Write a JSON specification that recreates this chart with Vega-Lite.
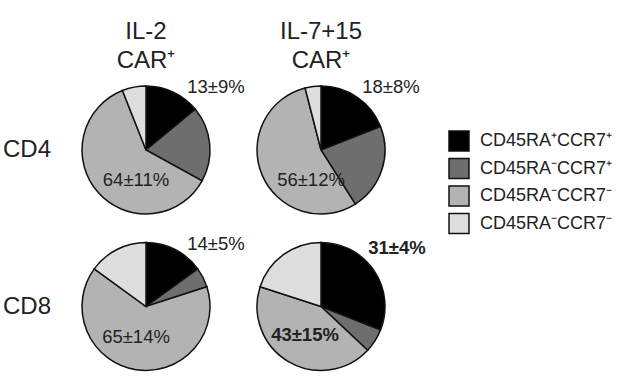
{
  "$schema": "https://vega.github.io/schema/vega-lite/v6.json",
  "padding": {"left": 2, "top": 20, "right": 5, "bottom": 5},
  "background": "white",
  "bounds": "flush",
  "config": {"font": "Arial, Liberation Sans, sans-serif", "view": {"stroke": null}},
  "data": {"values": [
    {"cyto": "IL-2 CAR⁺", "cell": "CD4", "seg": "a", "pct": 14, "label": "13±9%"},
    {"cyto": "IL-2 CAR⁺", "cell": "CD4", "seg": "b", "pct": 19, "label": ""},
    {"cyto": "IL-2 CAR⁺", "cell": "CD4", "seg": "c", "pct": 61, "label": "64±11%"},
    {"cyto": "IL-2 CAR⁺", "cell": "CD4", "seg": "d", "pct": 6, "label": ""},
    {"cyto": "IL-7+15 CAR⁺", "cell": "CD4", "seg": "a", "pct": 19, "label": "18±8%"},
    {"cyto": "IL-7+15 CAR⁺", "cell": "CD4", "seg": "b", "pct": 22, "label": ""},
    {"cyto": "IL-7+15 CAR⁺", "cell": "CD4", "seg": "c", "pct": 55, "label": "56±12%"},
    {"cyto": "IL-7+15 CAR⁺", "cell": "CD4", "seg": "d", "pct": 4, "label": ""},
    {"cyto": "IL-2 CAR⁺", "cell": "CD8", "seg": "a", "pct": 15, "label": "14±5%"},
    {"cyto": "IL-2 CAR⁺", "cell": "CD8", "seg": "b", "pct": 5, "label": ""},
    {"cyto": "IL-2 CAR⁺", "cell": "CD8", "seg": "c", "pct": 65, "label": "65±14%"},
    {"cyto": "IL-2 CAR⁺", "cell": "CD8", "seg": "d", "pct": 15, "label": ""},
    {"cyto": "IL-7+15 CAR⁺", "cell": "CD8", "seg": "a", "pct": 31, "label": "31±4%"},
    {"cyto": "IL-7+15 CAR⁺", "cell": "CD8", "seg": "b", "pct": 6, "label": ""},
    {"cyto": "IL-7+15 CAR⁺", "cell": "CD8", "seg": "c", "pct": 43, "label": "43±15%"},
    {"cyto": "IL-7+15 CAR⁺", "cell": "CD8", "seg": "d", "pct": 20, "label": ""}
  ]},
  "facet": {
    "row": {"field": "cell", "type": "nominal", "title": null,
      "header": {"labelAngle": 0, "labelAlign": "left", "labelBaseline": "middle", "labelFontSize": 24, "labelColor": "#222", "labelPadding": 25, "labelOrient": "left"}},
    "column": {"field": "cyto", "type": "nominal", "title": null,
      "header": {"labelFontSize": 24, "labelExpr": "split(datum.value, ' ')", "labelLineHeight": 29, "labelColor": "#222", "labelPadding": 7}}
  },
  "spacing": {"row": 16.5, "column": 35},
  "spec": {
    "width": 140,
    "height": 140,
    "layer": [
      {
        "mark": {"type": "arc", "outerRadius": 64, "stroke": "#111", "strokeWidth": 1.5},
        "encoding": {
          "theta": {"field": "pct", "type": "quantitative", "stack": true},
          "order": {"field": "seg", "sort": "ascending"},
          "color": {"field": "seg", "type": "nominal",
            "scale": {"domain": ["a", "b", "c", "d"], "range": ["#000000", "#6e6e6e", "#b3b3b3", "#dedede"]},
            "legend": {"orient": "none", "legendX": 372, "legendY": 50, "title": null,
              "symbolType": "square", "symbolSize": 400, "symbolStrokeColor": "#111", "symbolStrokeWidth": 1.5, "symbolOpacity": 1,
              "labelFontSize": 18, "labelColor": "#222", "labelOffset": 10, "rowPadding": 1.5, "labelLimit": 300,
              "labelExpr": "datum.value == 'a' ? 'CD45RA⁺CCR7⁺' : datum.value == 'b' ? 'CD45RA⁻CCR7⁺' : 'CD45RA⁻CCR7⁻'"}
          }
        }
      },
      {
        "transform": [{"filter": "datum.seg == 'a' && !(datum.cell == 'CD8' && datum.cyto == 'IL-7+15 CAR⁺')"}],
        "mark": {"type": "text", "dx": 70, "dy": -63, "fontSize": 18.5, "color": "#222"},
        "encoding": {"text": {"field": "label"}}
      },
      {
        "transform": [{"filter": "datum.seg == 'a' && datum.cell == 'CD8' && datum.cyto == 'IL-7+15 CAR⁺'"}],
        "mark": {"type": "text", "dx": 76, "dy": -59, "fontSize": 18.5, "fontWeight": "bold", "color": "#222"},
        "encoding": {"text": {"field": "label"}}
      },
      {
        "transform": [{"filter": "datum.seg == 'c' && !(datum.cell == 'CD8' && datum.cyto == 'IL-7+15 CAR⁺')"}],
        "mark": {"type": "text", "dx": -10, "dy": 30, "fontSize": 18.5, "color": "#222"},
        "encoding": {"text": {"field": "label"}}
      },
      {
        "transform": [{"filter": "datum.seg == 'c' && datum.cell == 'CD8' && datum.cyto == 'IL-7+15 CAR⁺'"}],
        "mark": {"type": "text", "dx": -16, "dy": 28, "fontSize": 18.5, "fontWeight": "bold", "color": "#222"},
        "encoding": {"text": {"field": "label"}}
      }
    ]
  }
}
